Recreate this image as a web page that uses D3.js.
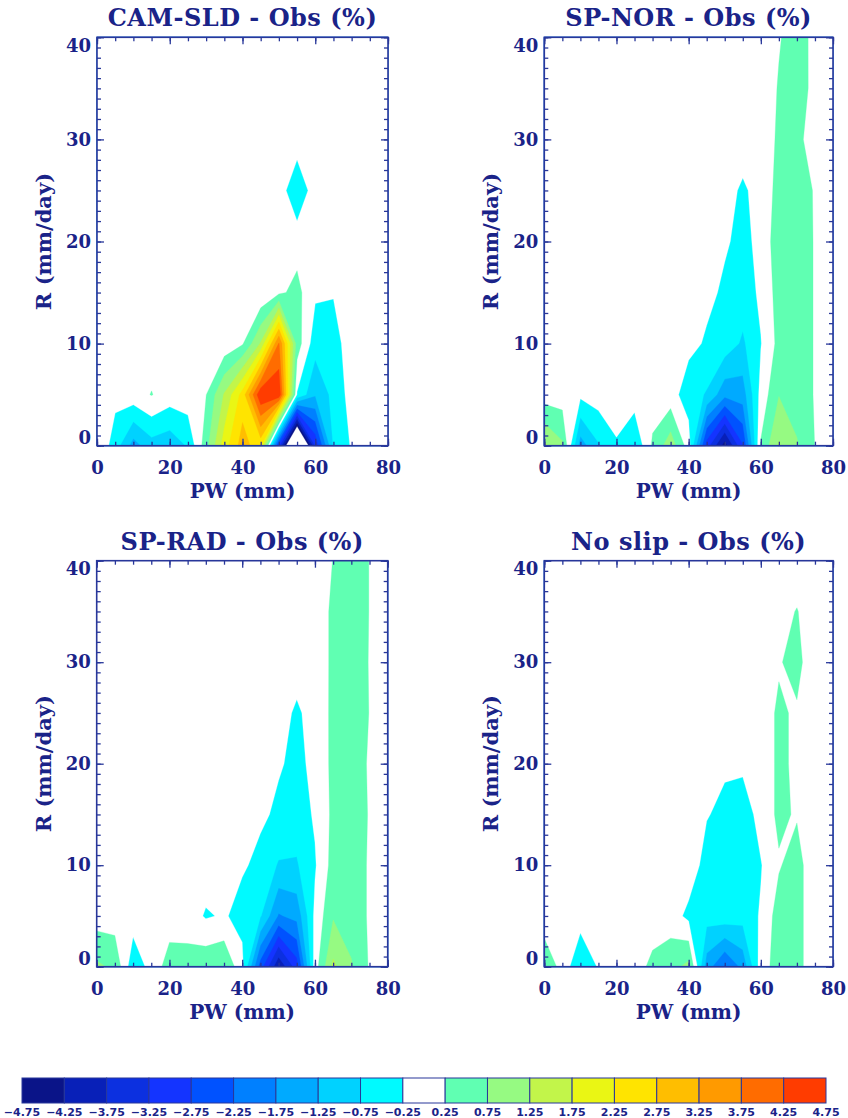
<!DOCTYPE html>
<html>
<head>
<meta charset="utf-8">
<script src="https://cdnjs.cloudflare.com/ajax/libs/d3/7.8.5/d3.min.js"></script>
<style>
	body { margin: 0; background: #fff; }
	svg { display: block; }
	text { font-family: "DejaVu Serif", serif; font-weight: bold; fill: #1a2388; }
	text.cb { font-family: "DejaVu Sans", sans-serif; }
</style>
</head>
<body>
<svg id="chart" width="848" height="1118"></svg>
<script>
(function(window) {

	// grid axes: precipitable water (mm) and rain rate (mm/day)
	var pw = [0, 5, 10, 15, 20, 25, 30, 35, 40, 45, 50, 55, 60, 65, 70, 75, 80];
	var rain = [0, 5, 10, 15, 20, 25, 30, 35, 40];

	var levels = [-4.75, -4.25, -3.75, -3.25, -2.75, -2.25, -1.75, -1.25, -0.75, -0.25,
		0.25, 0.75, 1.25, 1.75, 2.25, 2.75, 3.25, 3.75, 4.25, 4.75];
	var colors = ['#0a1488', '#0820b8', '#0c30e0', '#1434ff', '#0052ff', '#0080ff', '#00aaff',
		'#00d2ff', '#00faff', '#ffffff', '#60ffb2', '#96fa82', '#c2f54a', '#eaf614',
		'#ffe400', '#ffbe00', '#ff9a00', '#ff6c00', '#ff3c00'];

	var pwTicks = [0, 20, 40, 60, 80];
	var rainTicks = [0, 10, 20, 30, 40];

	// model - obs differences (%), one row per rain value
	var camSld = [
		[0.2, -0.5, -1.46, -0.95, -1.08, -0.7, 0.55, 2.0, 3.0, 2.4, -3.06, -7.5, -3.2, -0.7, -0.2, 0, 0],
		[0, -0.11, 0.05, 0.27, 0.01, 0.05, 0.24, 1.3, 2.45, 4.7, 4.7, -0.3, -1.2, -0.6, -0.05, 0, 0],
		[0, 0, 0, 0, 0, 0, 0, -0.1, 0.2, 1.3, 3.8, 0.5, -0.54, -0.6, 0.2, 0, 0],
		[0, 0, 0, 0, 0, 0, 0, 0, 0, -0.2, 0.15, 0.4, -0.17, -0.2, 0, 0, 0],
		[0, 0, 0, 0, 0, 0, 0, 0, 0, 0, 0, 0.05, 0, 0, 0, 0, 0],
		[0, 0, 0, 0, 0, 0, 0, 0, 0, 0, 0.05, -0.7, 0.05, 0, 0, 0, 0],
		[0, 0, 0, 0, 0, 0, 0, 0, 0, 0, 0, 0.05, 0, 0, 0, 0, 0],
		[0, 0, 0, 0, 0, 0, 0, 0, 0, 0, 0, 0, 0, 0, 0, 0, 0],
		[0, 0, 0, 0, 0, 0, 0, 0, 0, 0, 0, 0, 0, 0, 0, 0, 0]
	];
	var spNor = [
		[1.35, 0.83, -1.5, -0.8, -0.3, -0.72, 0.33, 1.05, 0.0, -3.0, -4.5, -2.8, 0.3, 1.3, 0.8, 0.24, 0],
		[0, 0, -0.14, 0, 0, 0, 0, -0.05, -0.5, -0.8, -1.6, -1.5, -0.08, 0.73, 0.5, 0.22, 0],
		[0, 0, 0, 0, 0, 0, 0, 0, -0.13, -0.3, -0.45, -0.83, -0.27, 0.4, 0.5, 0.22, 0],
		[0, 0, 0, 0, 0, 0, 0, 0, 0, -0.16, -0.31, -0.5, -0.16, 0.46, 0.5, 0.22, 0],
		[0, 0, 0, 0, 0, 0, 0, 0, 0, 0, -0.21, -0.34, -0.16, 0.6, 0.5, 0.22, 0],
		[0, 0, 0, 0, 0, 0, 0, 0, 0, 0, -0.06, -0.33, -0.06, 0.41, 0.5, 0.21, 0],
		[0, 0, 0, 0, 0, 0, 0, 0, 0, 0, 0, 0, 0, 0.32, 0.5, -0.2, 0],
		[0, 0, 0, 0, 0, 0, 0, 0, 0, 0, 0, 0, 0, 0.28, 0.5, 0.1, 0],
		[0, 0, 0, 0, 0, 0, 0, 0, 0, 0, 0, 0, 0, 0.22, 0.43, 0.14, 0]
	];
	var spRad = [
		[0.85, 0.65, -0.6, -0.07, 0.48, 0.46, 0.62, 0.72, -0.1, -2.5, -4.2, -3.0, 0, 1.35, 0.8, 0.2, 0],
		[0, 0, 0, 0, 0, 0, -0.3, -0.2, -0.41, -0.7, -1.8, -1.6, -0.13, 0.7, 0.5, 0.2, 0],
		[0, 0, 0, 0, 0, 0, 0, 0, -0.2, -0.35, -0.8, -0.8, -0.3, 0.44, 0.5, 0.2, 0],
		[0, 0, 0, 0, 0, 0, 0, 0, 0, -0.19, -0.31, -0.5, -0.19, 0.36, 0.5, 0.22, 0],
		[0, 0, 0, 0, 0, 0, 0, 0, 0, 0, -0.22, -0.32, -0.18, 0.39, 0.5, 0.2, 0],
		[0, 0, 0, 0, 0, 0, 0, 0, 0, 0, -0.02, -0.34, -0.02, 0.34, 0.5, 0.24, 0],
		[0, 0, 0, 0, 0, 0, 0, 0, 0, 0, 0, 0, 0, 0.33, 0.5, 0.23, 0],
		[0, 0, 0, 0, 0, 0, 0, 0, 0, 0, 0, 0, 0, 0.33, 0.5, 0.24, 0],
		[0, 0, 0, 0, 0, 0, 0, 0, 0, 0, 0, 0, 0, 0.26, 0.5, 0.24, 0]
	];
	var noSlip = [
		[0.57, 0.1, -0.74, -0.2, 0, 0.04, 0.37, 0.57, 0.9, -1.5, -2.3, -1.6, 0, 0.5, 0.5, -0.2, 0],
		[0, 0, 0, 0, 0, 0, 0, 0, -0.38, -0.55, -0.45, -0.55, -0.2, 0.5, 0.5, -0.2, 0],
		[0, 0, 0, 0, 0, 0, 0, 0, 0.05, -0.45, -0.5, -0.5, -0.28, 0.2, 0.5, -0.2, 0],
		[0, 0, 0, 0, 0, 0, 0, 0, 0, -0.22, -0.37, -0.53, -0.06, 0.35, 0.2, -0.2, 0],
		[0, 0, 0, 0, 0, 0, 0, 0, 0, 0, -0.18, -0.15, 0, 0.33, 0.18, 0, 0],
		[0, 0, 0, 0, 0, 0, 0, 0, 0, 0, 0, 0, 0, 0.33, 0.18, 0, 0],
		[0, 0, 0, 0, 0, 0, 0, 0, 0, 0, 0, 0, 0, 0.2, 0.45, -0.2, 0],
		[0, 0, 0, 0, 0, 0, 0, 0, 0, 0, 0, 0, 0, 0.1, 0.27, 0, 0],
		[0, 0, 0, 0, 0, 0, 0, 0, 0, 0, 0, 0, 0, 0, 0, 0, 0]
	];

	var panels = [
		{ title: 'CAM-SLD - Obs (%)', grid: camSld, left: 97, right: 388, top: 37.3, bottom: 445.7, ylab: 44 },
		{ title: 'SP-NOR - Obs (%)', grid: spNor, left: 544.3, right: 833, top: 37.3, bottom: 445.7, ylab: 491 },
		{ title: 'SP-RAD - Obs (%)', grid: spRad, left: 96.7, right: 387.7, top: 560.7, bottom: 966.7, ylab: 44 },
		{ title: 'No slip - Obs (%)', grid: noSlip, left: 544.3, right: 833, top: 560.7, bottom: 966.7, ylab: 491 }
	];

	var lineColor = '#28379a';
	var svg = d3.select('#chart');

	function styleAxis(sel, size) {
		sel.select('.domain').remove();
		sel.selectAll('.tick line').attr('stroke', lineColor).attr('stroke-width', 1.3);
		sel.selectAll('.tick text').attr('fill', '#1a2388').style('font-size', size + 'px');
	}

	function drawPanel(p) {
		var n = pw.length, m = rain.length;
		var x = d3.scaleLinear().domain([0, 80]).range([p.left, p.right]);
		var y = d3.scaleLinear().domain([0, 40]).range([p.bottom, p.top]);
		// grid index -> data coordinate
		var ix = d3.scaleLinear().domain(d3.range(n)).range(pw);
		var iy = d3.scaleLinear().domain(d3.range(m)).range(rain);

		var values = [];
		p.grid.forEach(function(row) { row.forEach(function(v) { values.push(v); }); });
		var bands = d3.contours().size([n, m]).thresholds(levels)(values);

		var proj = d3.geoTransform({
			point: function(cx, cy) {
				var gx = Math.max(0, Math.min(n - 1, cx - 0.5));
				var gy = Math.max(0, Math.min(m - 1, cy - 0.5));
				this.stream.point(x(ix(gx)), y(iy(gy)));
			}
		});
		var path = d3.geoPath(proj);

		var g = svg.append('g');
		g.append('g').selectAll('path')
			.data(bands)
			.enter().append('path')
				.attr('d', path)
				.attr('fill', function(d, i) { return i < colors.length ? colors[i] : '#ffffff'; })
				.attr('stroke', function(d, i) { return i < colors.length ? colors[i] : '#ffffff'; })
				.attr('stroke-width', 0.3);

		// minor and major ticks on all four sides, pointing inwards
		var bottomMinor = g.append('g').attr('transform', 'translate(0,' + p.bottom + ')')
			.call(d3.axisBottom(x).tickValues(d3.range(0, 81, 5)).tickSize(-4).tickFormat(''));
		var bottomMajor = g.append('g').attr('transform', 'translate(0,' + p.bottom + ')')
			.call(d3.axisBottom(x).tickValues(pwTicks).tickSize(-7).tickPadding(16).tickFormat(d3.format('d')));
		var topMinor = g.append('g').attr('transform', 'translate(0,' + p.top + ')')
			.call(d3.axisTop(x).tickValues(d3.range(0, 81, 5)).tickSize(-4).tickFormat(''));
		var topMajor = g.append('g').attr('transform', 'translate(0,' + p.top + ')')
			.call(d3.axisTop(x).tickValues(pwTicks).tickSize(-7).tickFormat(''));
		var leftMinor = g.append('g').attr('transform', 'translate(' + p.left + ',0)')
			.call(d3.axisLeft(y).tickValues(d3.range(0, 41, 1)).tickSize(-4).tickFormat(''));
		var leftMajor = g.append('g').attr('transform', 'translate(' + p.left + ',0)')
			.call(d3.axisLeft(y).tickValues(rainTicks).tickSize(-7).tickPadding(6).tickFormat(d3.format('d')));
		var rightMinor = g.append('g').attr('transform', 'translate(' + p.right + ',0)')
			.call(d3.axisRight(y).tickValues(d3.range(0, 41, 1)).tickSize(-4).tickFormat(''));
		var rightMajor = g.append('g').attr('transform', 'translate(' + p.right + ',0)')
			.call(d3.axisRight(y).tickValues(rainTicks).tickSize(-7).tickFormat(''));
		[bottomMinor, bottomMajor, topMinor, topMajor, leftMinor, leftMajor, rightMinor, rightMajor]
			.forEach(function(a) { styleAxis(a, 18); });

		// end labels sit inside the axis range
		leftMajor.selectAll('.tick text')
			.attr('dy', function(d) { return d === 0 ? '-0.12em' : (d === 40 ? '0.78em' : '0.32em'); });

		g.append('rect')
			.attr('x', p.left).attr('y', p.top)
			.attr('width', p.right - p.left).attr('height', p.bottom - p.top)
			.attr('fill', 'none').attr('stroke', lineColor).attr('stroke-width', 1.6);

		g.append('text')
			.attr('x', (p.left + p.right) / 2).attr('y', p.top - 11)
			.attr('text-anchor', 'middle').style('font-size', '24px').style('letter-spacing', '0.5px')
			.text(p.title);
		g.append('text')
			.attr('x', (p.left + p.right) / 2).attr('y', p.bottom + 52)
			.attr('text-anchor', 'middle').style('font-size', '20px')
			.text('PW (mm)');
		g.append('text')
			.attr('transform', 'translate(' + p.ylab + ',' + (p.top + p.bottom) / 2 + ') rotate(-90)')
			.attr('text-anchor', 'middle').attr('dy', '0.35em').style('font-size', '21px')
			.text('R (mm/day)');
	}

	panels.forEach(drawPanel);

	// colour bar
	var cb = d3.scaleLinear().domain([levels[0], levels[levels.length - 1]]).range([22, 826]);
	var bar = svg.append('g');
	bar.selectAll('rect')
		.data(colors)
		.enter().append('rect')
			.attr('x', function(d, i) { return cb(levels[i]); })
			.attr('y', 1078)
			.attr('width', function(d, i) { return cb(levels[i + 1]) - cb(levels[i]); })
			.attr('height', 25)
			.attr('fill', function(d) { return d; })
			.attr('stroke', lineColor)
			.attr('stroke-width', 1);
	bar.selectAll('text')
		.data(levels)
		.enter().append('text')
			.attr('class', 'cb')
			.attr('x', function(d) { return cb(d); })
			.attr('y', 1116)
			.attr('text-anchor', 'middle')
			.style('font-size', '11px')
			.text(d3.format('.2f'));

})(window)
</script>
</body>
</html>
